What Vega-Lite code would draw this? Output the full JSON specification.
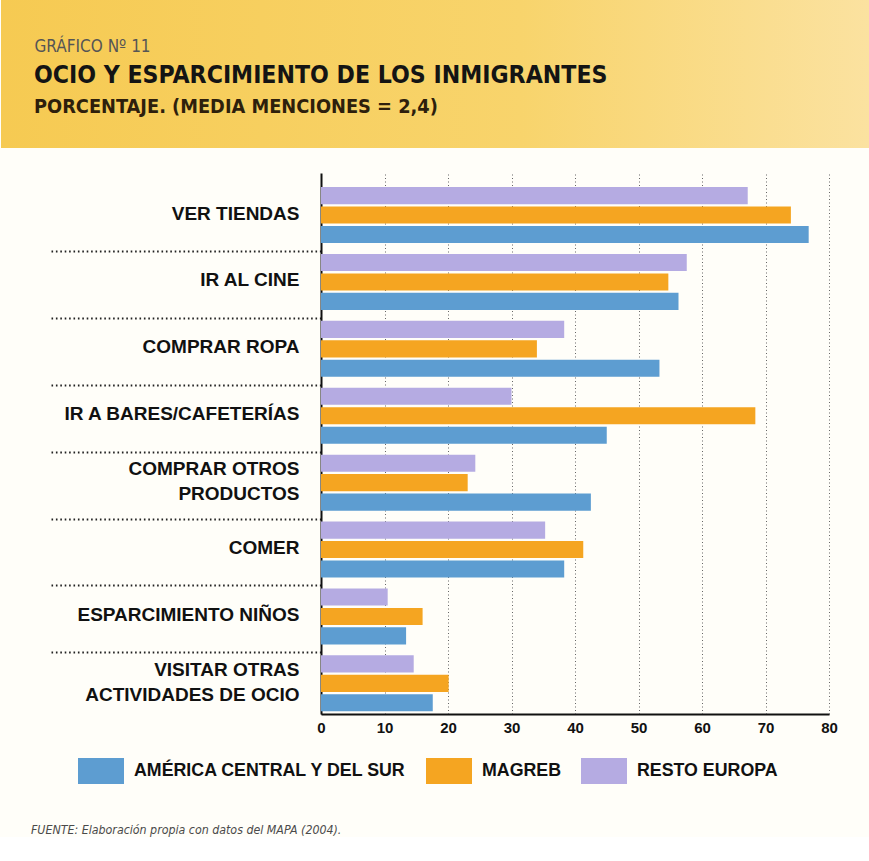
{
  "$schema": "https://vega.github.io/schema/vega-lite/v6.json",
  "padding": 0,
  "background": "#fffef9",
  "spacing": 25,
  "config": {"view": {"stroke": null}},
  "title": {
    "text": "FUENTE: Elaboración propia con datos del MAPA (2004).",
    "orient": "bottom", "anchor": "start", "dx": 30, "offset": 40,
    "font": "DejaVu Sans Condensed", "fontStyle": "italic", "fontWeight": "normal",
    "fontSize": 12.3, "color": "#4a4a4a"
  },
  "datasets": {
    "ocio": [
      {"actividad": "VER TIENDAS", "origen": "AMÉRICA CENTRAL Y DEL SUR", "porcentaje": 76.8},
      {"actividad": "VER TIENDAS", "origen": "MAGREB", "porcentaje": 74.0},
      {"actividad": "VER TIENDAS", "origen": "RESTO EUROPA", "porcentaje": 67.2},
      {"actividad": "IR AL CINE", "origen": "AMÉRICA CENTRAL Y DEL SUR", "porcentaje": 56.3},
      {"actividad": "IR AL CINE", "origen": "MAGREB", "porcentaje": 54.7},
      {"actividad": "IR AL CINE", "origen": "RESTO EUROPA", "porcentaje": 57.6},
      {"actividad": "COMPRAR ROPA", "origen": "AMÉRICA CENTRAL Y DEL SUR", "porcentaje": 53.3},
      {"actividad": "COMPRAR ROPA", "origen": "MAGREB", "porcentaje": 34.0},
      {"actividad": "COMPRAR ROPA", "origen": "RESTO EUROPA", "porcentaje": 38.3},
      {"actividad": "IR A BARES/CAFETERÍAS", "origen": "AMÉRICA CENTRAL Y DEL SUR", "porcentaje": 45.0},
      {"actividad": "IR A BARES/CAFETERÍAS", "origen": "MAGREB", "porcentaje": 68.4},
      {"actividad": "IR A BARES/CAFETERÍAS", "origen": "RESTO EUROPA", "porcentaje": 30.0},
      {"actividad": "COMPRAR OTROS PRODUCTOS", "origen": "AMÉRICA CENTRAL Y DEL SUR", "porcentaje": 42.5},
      {"actividad": "COMPRAR OTROS PRODUCTOS", "origen": "MAGREB", "porcentaje": 23.1},
      {"actividad": "COMPRAR OTROS PRODUCTOS", "origen": "RESTO EUROPA", "porcentaje": 24.3},
      {"actividad": "COMER", "origen": "AMÉRICA CENTRAL Y DEL SUR", "porcentaje": 38.3},
      {"actividad": "COMER", "origen": "MAGREB", "porcentaje": 41.3},
      {"actividad": "COMER", "origen": "RESTO EUROPA", "porcentaje": 35.3},
      {"actividad": "ESPARCIMIENTO NIÑOS", "origen": "AMÉRICA CENTRAL Y DEL SUR", "porcentaje": 13.4},
      {"actividad": "ESPARCIMIENTO NIÑOS", "origen": "MAGREB", "porcentaje": 16.0},
      {"actividad": "ESPARCIMIENTO NIÑOS", "origen": "RESTO EUROPA", "porcentaje": 10.5},
      {"actividad": "VISITAR OTRAS ACTIVIDADES DE OCIO", "origen": "AMÉRICA CENTRAL Y DEL SUR", "porcentaje": 17.6},
      {"actividad": "VISITAR OTRAS ACTIVIDADES DE OCIO", "origen": "MAGREB", "porcentaje": 20.1},
      {"actividad": "VISITAR OTRAS ACTIVIDADES DE OCIO", "origen": "RESTO EUROPA", "porcentaje": 14.6}
    ]
  },
  "vconcat": [
    {
      "width": 549,
      "height": 148,
      "data": {"values": [{"banda": "cabecera"}]},
      "title": {
        "text": "OCIO Y ESPARCIMIENTO DE LOS INMIGRANTES",
        "subtitle": "PORCENTAJE. (MEDIA MENCIONES = 2,4)",
        "orient": "top", "anchor": "start", "frame": "group",
        "offset": -118, "dx": -287,
        "font": "DejaVu Sans Condensed", "fontSize": 24.6, "fontWeight": "bold", "color": "#141414",
        "subtitleFont": "DejaVu Sans Condensed", "subtitleFontSize": 19.8, "subtitleFontWeight": "bold",
        "subtitleColor": "#2e1f0c", "subtitlePadding": 9, "zindex": 1
      },
      "mark": {
        "type": "rect",
        "clip": false,
        "color": {
          "gradient": "linear", "x1": 0, "y1": 0, "x2": 1, "y2": 0,
          "stops": [
            {"offset": 0, "color": "#f6ca52"},
            {"offset": 0.6, "color": "#f8d46c"},
            {"offset": 1, "color": "#fbe2a0"}
          ]
        }
      },
      "encoding": {
        "x": {
          "datum": -320, "type": "quantitative",
          "scale": {"domain": [0, 549], "nice": false, "zero": false},
          "axis": {
            "orient": "top", "title": "GRÁFICO Nº 11",
            "labels": false, "ticks": false, "domain": false, "grid": false,
            "titleX": -287, "titleY": 51, "titleAnchor": "start", "titleAlign": "left",
            "titleBaseline": "alphabetic", "titleFont": "DejaVu Sans Condensed",
            "titleFontSize": 17, "titleFontWeight": "normal", "titleColor": "#555555", "zindex": 1
          }
        },
        "x2": {"datum": 549}
      }
    },
    {
      "width": 508,
      "height": 541,
      "data": {"name": "ocio"},
      "mark": {"type": "bar"},
      "encoding": {
        "y": {
          "field": "actividad", "type": "nominal",
          "sort": ["VER TIENDAS", "IR AL CINE", "COMPRAR ROPA", "IR A BARES/CAFETERÍAS", "COMPRAR OTROS PRODUCTOS", "COMER", "ESPARCIMIENTO NIÑOS", "VISITAR OTRAS ACTIVIDADES DE OCIO"],
          "scale": {"paddingInner": 0.163, "paddingOuter": 0.125, "align": 0.84},
          "axis": {
            "title": null,
            "domain": true, "domainColor": "#111111", "domainWidth": 2,
            "bandPosition": 0,
            "ticks": true, "tickSize": 271, "tickWidth": 2,
            "tickDash": [1.6, 2.8], "tickColor": "#222222", "tickOffset": -3,
            "tickOpacity": {"condition": {"test": "datum.value === 'VER TIENDAS'", "value": 0}, "value": 1},
            "labelPadding": -249, "labelAlign": "right", "labelBaseline": "middle",
            "labelOffset": {"condition": {"test": "datum.value === 'COMPRAR OTROS PRODUCTOS' || datum.value === 'VISITAR OTRAS ACTIVIDADES DE OCIO'", "value": -11}, "value": 1},
            "labelFont": "Liberation Sans", "labelFontWeight": "bold", "labelFontSize": 19,
            "labelColor": "#111111", "labelLineHeight": 25, "labelLimit": 400,
            "labelExpr": "datum.value == 'COMPRAR OTROS PRODUCTOS' ? ['COMPRAR OTROS', 'PRODUCTOS'] : datum.value == 'VISITAR OTRAS ACTIVIDADES DE OCIO' ? ['VISITAR OTRAS', 'ACTIVIDADES DE OCIO'] : datum.label",
            "minExtent": 320, "maxExtent": 400, "grid": false
          }
        },
        "yOffset": {
          "field": "origen", "type": "nominal",
          "sort": ["RESTO EUROPA", "MAGREB", "AMÉRICA CENTRAL Y DEL SUR"],
          "scale": {"paddingInner": 0.12, "paddingOuter": 0}
        },
        "x": {
          "field": "porcentaje", "type": "quantitative",
          "scale": {"domain": [0, 80], "nice": false},
          "axis": {
            "title": null, "values": [0, 10, 20, 30, 40, 50, 60, 70, 80],
            "domain": true, "domainColor": "#111111", "domainWidth": 2,
            "ticks": false, "grid": true, "gridDash": [1, 2.5], "gridColor": "#666666", "gridWidth": 1,
            "labelFont": "Liberation Sans", "labelFontWeight": "bold", "labelFontSize": 15,
            "labelColor": "#111111", "labelPadding": 6, "labelFlush": false
          }
        },
        "color": {
          "field": "origen", "type": "nominal",
          "scale": {
            "domain": ["AMÉRICA CENTRAL Y DEL SUR", "MAGREB", "RESTO EUROPA"],
            "range": ["#5d9dd1", "#f5a521", "#b5abe2"]
          },
          "legend": {
            "title": null, "orient": "none", "legendX": -243, "legendY": 748,
            "direction": "horizontal",
            "symbolType": "M-1,-0.565H1V0.565H-1Z", "symbolSize": 2116,
            "symbolStrokeWidth": 0, "symbolOpacity": 1,
            "labelFont": "Liberation Sans", "labelFontWeight": "bold", "labelFontSize": 17.8,
            "labelColor": "#111111", "labelOffset": 10, "columnPadding": 19, "labelLimit": 400
          }
        }
      }
    }
  ]
}
